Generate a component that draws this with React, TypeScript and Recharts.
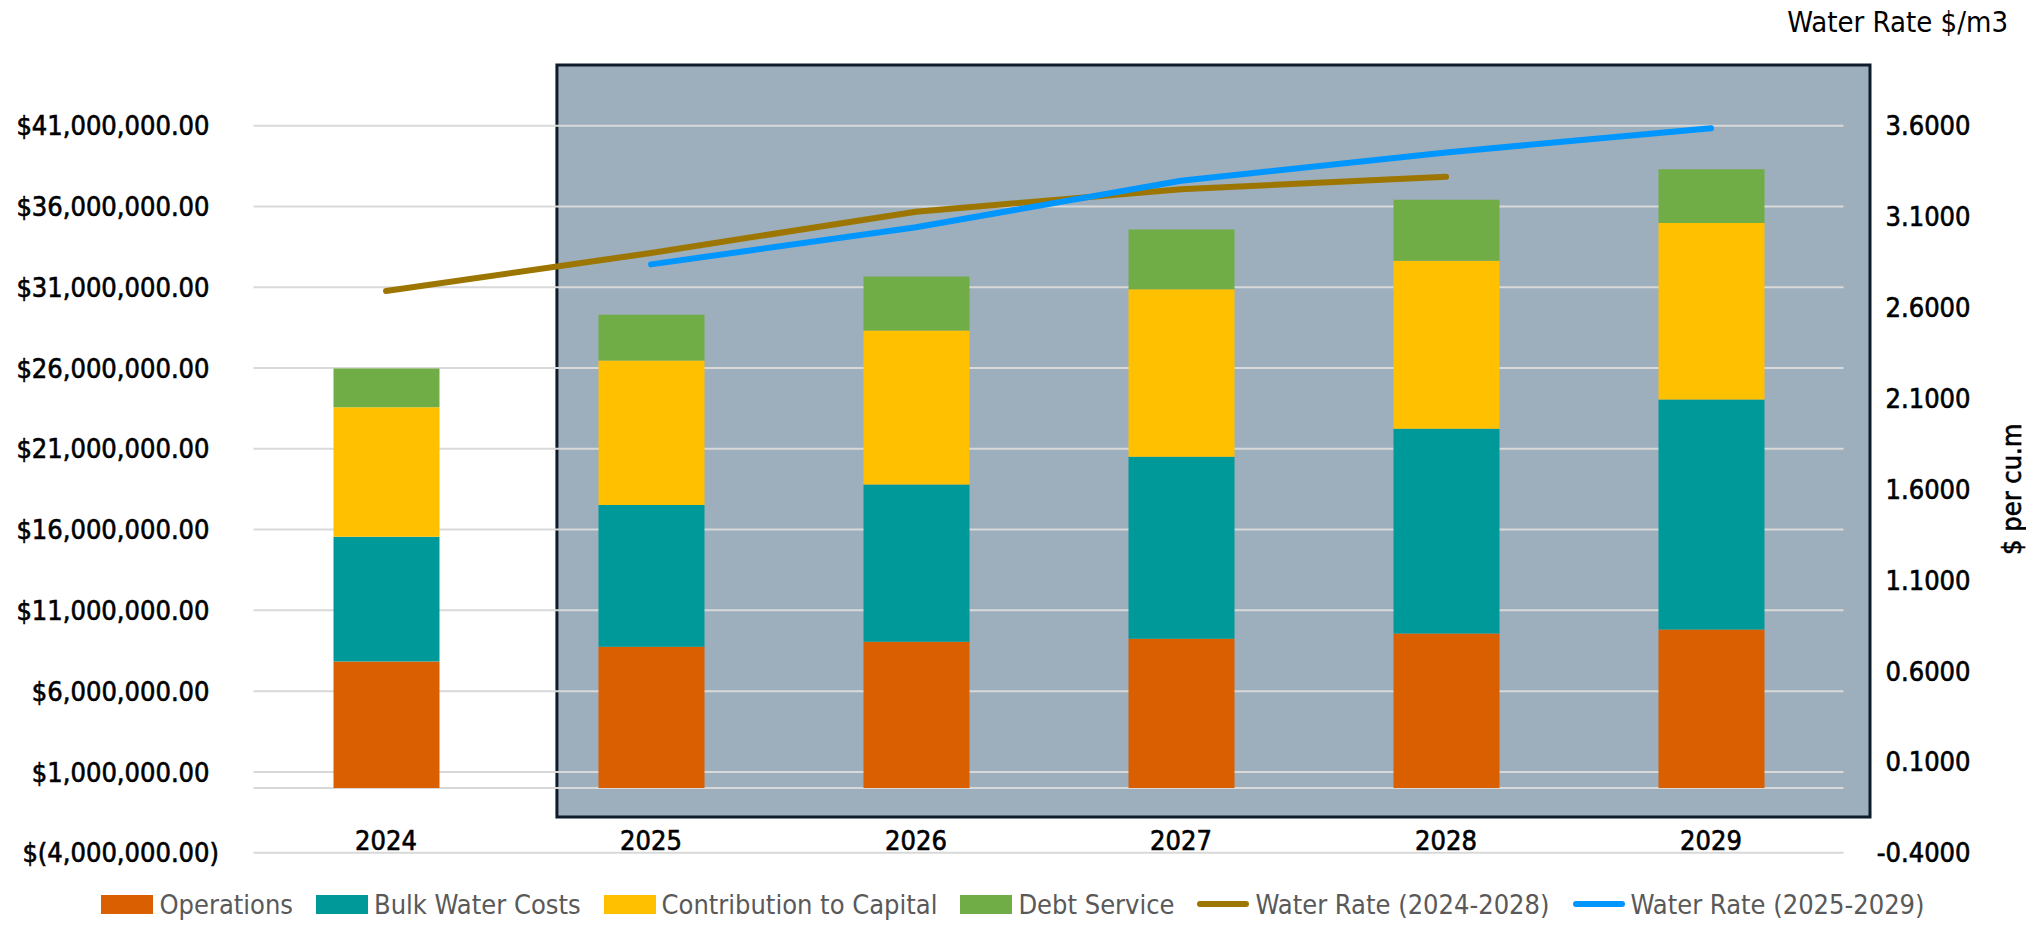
import { ComposedChart, Bar, Line, XAxis, YAxis, CartesianGrid, ReferenceArea, ReferenceLine } from 'recharts';

const years = [2024, 2025, 2026, 2027, 2028, 2029];
const operations = [7840000, 8750000, 9060000, 9240000, 9570000, 9820000];
const bulkWater = [7710000, 8770000, 9730000, 11270000, 12670000, 14230000];
const capital = [8030000, 8950000, 9530000, 10370000, 10400000, 10920000];
const debtService = [2390000, 2830000, 3350000, 3700000, 3770000, 3340000];
const rate2024 = [2.69, 2.9, 3.127, 3.25, 3.319, null];
const rate2025 = [null, 2.837, 3.041, 3.297, 3.453, 3.586];

const leftTicks = [-4000000, 1000000, 6000000, 11000000, 16000000, 21000000, 26000000, 31000000, 36000000, 41000000];
const rightTicks = [-0.4, 0.1, 0.6, 1.1, 1.6, 2.1, 2.6, 3.1, 3.6];

// shaded forecast box, in axis units
const boxX = [2024.645, 2029.6];
const boxY = [-1790000, 44760000];

const bars = [
  { key: 'ops', name: 'Operations', color: '#D95F00' },
  { key: 'bulk', name: 'Bulk Water Costs', color: '#009999' },
  { key: 'cap', name: 'Contribution to Capital', color: '#FFC000' },
  { key: 'debt', name: 'Debt Service', color: '#70AD47' },
];
const lines = [
  { key: 'r1', name: 'Water Rate (2024-2028)', color: '#9C7600' },
  { key: 'r2', name: 'Water Rate (2025-2029)', color: '#0096FF' },
];

const data = years.map((year, i) => ({
  year,
  ops: operations[i],
  bulk: bulkWater[i],
  cap: capital[i],
  debt: debtService[i],
  r1: rate2024[i],
  r2: rate2025[i],
}));

const FONT = "'DejaVu Sans Condensed', 'DejaVu Sans', sans-serif";

const money = (v: number) => {
  const s = Math.abs(v).toLocaleString('en-US', { minimumFractionDigits: 2, maximumFractionDigits: 2 });
  return v < 0 ? `$(${s})` : `$${s}`;
};

// slightly heavier black labels, like the original
const tickText = { fill: '#000', stroke: '#000', strokeWidth: 0.6, fontSize: 27 };

const LeftTick = (props: any) => {
  const { x, y, payload } = props;
  const v = payload.value as number;
  return (
    <text x={x} y={y} dy="0.355em" textAnchor="end" {...tickText}>
      {money(v)}
      {v >= 0 && <tspan fillOpacity={0} strokeOpacity={0}>)</tspan>}
    </text>
  );
};

const RightTick = (props: any) => {
  const { x, y, payload } = props;
  return (
    <text x={x + 127} y={y} dy="0.355em" textAnchor="end" {...tickText}>
      {(payload.value as number).toFixed(4)}
    </text>
  );
};

const XTick = (props: any) => {
  const { x, y, payload } = props;
  return (
    <text x={x} y={y - 3} textAnchor="middle" {...tickText}>
      {payload.value}
    </text>
  );
};

const RightLabel = (props: any) => {
  const { viewBox } = props;
  const cx = viewBox.x + viewBox.width - 14;
  const cy = viewBox.y + viewBox.height / 2;
  return (
    <text x={cx} y={cy} textAnchor="middle" dominantBaseline="central" {...tickText}
      transform={`rotate(-90, ${cx}, ${cy})`}>
      $ per cu.m
    </text>
  );
};

export default function App() {
  return (
    <div style={{ position: 'absolute', left: 0, top: 0, width: 2026, height: 926, background: '#fff', fontFamily: FONT, fontStretch: 'condensed' }}>
      <div style={{ position: 'absolute', right: 18, top: 4, fontSize: 29, color: '#000', lineHeight: '36px' }}>
        Water Rate $/m3
      </div>
      <ComposedChart width={2026} height={926} data={data} margin={{ top: 125.7, right: 0, bottom: 43.3, left: 0 }}>
        <ReferenceArea yAxisId="left" x1={boxX[0]} x2={boxX[1]} y1={boxY[0]} y2={boxY[1]} ifOverflow="visible"
          fill="#9DAEBC" fillOpacity={1} stroke="#0D1B2A" strokeWidth={3} zIndex={-150} />
        <CartesianGrid yAxisId="left" vertical={false} stroke="#D9D9D9" strokeWidth={2} />
        <ReferenceLine yAxisId="left" y={0} stroke="#D9D9D9" strokeWidth={2} zIndex={-90} />
        <XAxis dataKey="year" type="number" domain={[2023.5, 2029.5]} ticks={years} interval={0}
          axisLine={false} tickLine={false} tickSize={0} tickMargin={0} height={30} tick={<XTick />} />
        <YAxis yAxisId="left" domain={[-4000000, 41000000]} ticks={leftTicks} interval={0} width={253.5}
          axisLine={false} tickLine={false} tickSize={0} tickMargin={34.5} tick={<LeftTick />} />
        <YAxis yAxisId="right" orientation="right" domain={[-0.4, 3.6]} ticks={rightTicks} interval={0} width={182.5}
          axisLine={false} tickLine={false} tickSize={0} tickMargin={0} tick={<RightTick />}
          label={<RightLabel />} />
        {bars.map((b) => (
          <Bar key={b.key} yAxisId="left" dataKey={b.key} name={b.name} stackId="a" fill={b.color}
            barSize={106} isAnimationActive={false} />
        ))}
        {lines.map((l) => (
          <Line key={l.key} yAxisId="right" dataKey={l.key} name={l.name} stroke={l.color} strokeWidth={6}
            strokeLinecap="round" strokeLinejoin="round" dot={false} activeDot={false} isAnimationActive={false} />
        ))}
      </ComposedChart>
      <div style={{ position: 'absolute', left: 0, width: 2026, top: 885, height: 38, display: 'flex', justifyContent: 'center', alignItems: 'center', gap: 23, fontSize: 27, color: '#595959' }}>
        {bars.map((b) => (
          <div key={b.key} style={{ display: 'flex', alignItems: 'center', gap: 6 }}>
            <span style={{ display: 'inline-block', width: 52, height: 19, background: b.color }} />
            <span>{b.name}</span>
          </div>
        ))}
        {lines.map((l) => (
          <div key={l.key} style={{ display: 'flex', alignItems: 'center', gap: 6 }}>
            <span style={{ display: 'inline-block', width: 52, height: 6, borderRadius: 3, background: l.color }} />
            <span>{l.name}</span>
          </div>
        ))}
      </div>
    </div>
  );
}
